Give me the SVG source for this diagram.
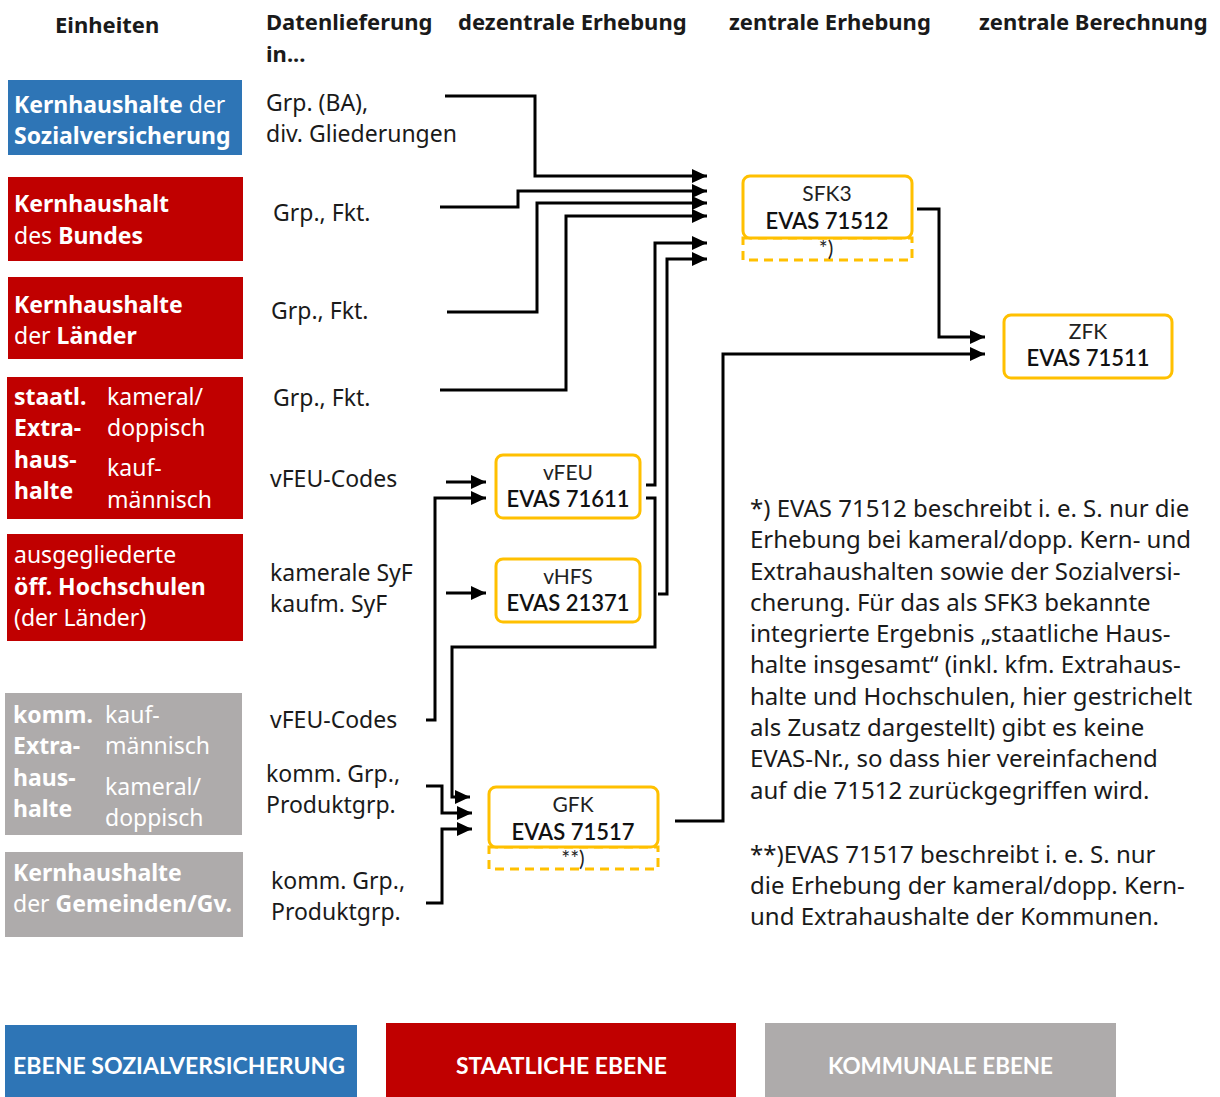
<svg xmlns="http://www.w3.org/2000/svg" width="1220" height="1097" viewBox="0 0 1220 1097">
<defs>
<marker id="ah" markerUnits="userSpaceOnUse" markerWidth="16" markerHeight="14" refX="15" refY="7" orient="auto"><path d="M0,0 L15,7 L0,14 z" fill="#000"/></marker>
<style>
text{font-family:Lato,"Liberation Sans",sans-serif;}
.h,.t,.w{font-family:"Noto Sans","Liberation Sans",sans-serif;}
.h{font-size:22px;font-weight:bold;fill:#1a1a1a;}
.t{font-size:23px;fill:#1a1a1a;}
.nt{font-size:24px;}
.w{font-size:23px;fill:#fff;}
.b{font-weight:bold;}
.bx{fill:#fff;stroke:#FFC000;stroke-width:3;}
.ds{fill:none;stroke:#FFC000;stroke-width:3;stroke-dasharray:9,6;}
.n1{font-size:21px;fill:#222;text-anchor:middle;}
.n2{font-size:22px;fill:#111;text-anchor:middle;font-weight:600;}
.c{fill:none;stroke:#000;stroke-width:3;}
.a{marker-end:url(#ah);}
.lg{font-size:22px;font-weight:bold;fill:#fff;}
</style>
</defs>
<rect width="1220" height="1097" fill="#fff"/>
<g id="headers">
<text class="h" x="55" y="33">Einheiten</text>
<text class="h" x="266" y="30">Datenlieferung</text>
<text class="h" x="266" y="62">in...</text>
<text class="h" x="458" y="30">dezentrale Erhebung</text>
<text class="h" x="729" y="30">zentrale Erhebung</text>
<text class="h" x="979" y="30">zentrale Berechnung</text>
</g>
<g id="unit-sv">
<rect x="8" y="80" width="234" height="75" fill="#2E75B6"/>
<text class="w" x="14" y="113"><tspan class="b">Kernhaushalte</tspan> der</text>
<text class="w b" x="14" y="144">Sozialversicherung</text>
</g>
<g id="unit-bund">
<rect x="8" y="177" width="235" height="84" fill="#C00000"/>
<text class="w b" x="14" y="212">Kernhaushalt</text>
<text class="w" x="14" y="244">des <tspan class="b">Bundes</tspan></text>
</g>
<g id="unit-laender">
<rect x="8" y="277" width="235" height="82" fill="#C00000"/>
<text class="w b" x="14" y="313">Kernhaushalte</text>
<text class="w" x="14" y="344">der <tspan class="b">Länder</tspan></text>
</g>
<g id="unit-staatl-extra">
<rect x="7" y="377" width="236" height="142" fill="#C00000"/>
<text class="w b" x="14" y="405">staatl.</text>
<text class="w b" x="14" y="436">Extra-</text>
<text class="w b" x="14" y="468">haus-</text>
<text class="w b" x="14" y="499">halte</text>
<text class="w" x="107" y="405">kameral/</text>
<text class="w" x="107" y="436">doppisch</text>
<text class="w" x="107" y="476">kauf-</text>
<text class="w" x="107" y="508">männisch</text>
</g>
<g id="unit-hochschulen">
<rect x="7" y="534" width="236" height="107" fill="#C00000"/>
<text class="w" x="14" y="563">ausgegliederte</text>
<text class="w b" x="14" y="595">öff. Hochschulen</text>
<text class="w" x="14" y="626">(der Länder)</text>
</g>
<g id="unit-komm-extra">
<rect x="5" y="693" width="237" height="142" fill="#AEABAB"/>
<text class="w b" x="13" y="723">komm.</text>
<text class="w b" x="13" y="754">Extra-</text>
<text class="w b" x="13" y="786">haus-</text>
<text class="w b" x="13" y="817">halte</text>
<text class="w" x="105" y="723">kauf-</text>
<text class="w" x="105" y="754">männisch</text>
<text class="w" x="105" y="795">kameral/</text>
<text class="w" x="105" y="826">doppisch</text>
</g>
<g id="unit-gemeinden">
<rect x="5" y="852" width="238" height="85" fill="#AEABAB"/>
<text class="w b" x="13" y="881">Kernhaushalte</text>
<text class="w" x="13" y="912">der <tspan class="b">Gemeinden/Gv.</tspan></text>
</g>
<g id="data-labels">
<text class="t" x="266" y="111">Grp. (BA),</text>
<text class="t" x="266" y="142">div. Gliederungen</text>
<text class="t" x="273" y="221">Grp., Fkt.</text>
<text class="t" x="271" y="319">Grp., Fkt.</text>
<text class="t" x="273" y="406">Grp., Fkt.</text>
<text class="t" x="270" y="487">vFEU-Codes</text>
<text class="t" x="270" y="581">kamerale SyF</text>
<text class="t" x="270" y="612">kaufm. SyF</text>
<text class="t" x="270" y="728">vFEU-Codes</text>
<text class="t" x="266" y="782">komm. Grp.,</text>
<text class="t" x="266" y="813">Produktgrp.</text>
<text class="t" x="271" y="889">komm. Grp.,</text>
<text class="t" x="271" y="920">Produktgrp.</text>
</g>
<g id="connectors">
<path class="c a" d="M445,96 H535 V176 H707"/>
<path class="c a" d="M440,207 H518 V191 H707"/>
<path class="c a" d="M447,312 H537 V203 H707"/>
<path class="c a" d="M440,390 H566 V216 H707"/>
<path class="c a" d="M646,485 H655 V243 H707"/>
<path class="c a" d="M658,594 H667 V259 H707"/>
<path class="c a" d="M646,498 H655 V647 H452 V797 H470"/>
<path class="c a" d="M446,482 H486"/>
<path class="c a" d="M446,593 H486"/>
<path class="c a" d="M426,720 H435 V498 H486"/>
<path class="c a" d="M426,786 H442 V813 H472"/>
<path class="c a" d="M426,903 H442 V829 H472"/>
<path class="c a" d="M675,821 H723 V354 H985"/>
<path class="c a" d="M917,209 H939 V337 H985"/>
</g>
<g id="node-sfk3">
<rect class="ds" x="743" y="238" width="169" height="22"/>
<rect class="bx" x="743" y="176" width="169" height="62" rx="7"/>
<text class="n1" x="827" y="201">SFK3</text>
<text class="n2" x="827" y="229">EVAS 71512</text>
<text class="n1" x="826" y="256">*)</text>
</g>
<g id="node-zfk">
<rect class="bx" x="1004" y="315" width="168" height="63" rx="7"/>
<text class="n1" x="1088" y="339">ZFK</text>
<text class="n2" x="1088" y="366">EVAS 71511</text>
</g>
<g id="node-vfeu">
<rect class="bx" x="496" y="455" width="144" height="63" rx="7"/>
<text class="n1" x="568" y="480">vFEU</text>
<text class="n2" x="568" y="507">EVAS 71611</text>
</g>
<g id="node-vhfs">
<rect class="bx" x="496" y="559" width="144" height="63" rx="7"/>
<text class="n1" x="568" y="584">vHFS</text>
<text class="n2" x="568" y="611">EVAS 21371</text>
</g>
<g id="node-gfk">
<rect class="ds" x="489" y="847" width="169" height="22"/>
<rect class="bx" x="489" y="787" width="169" height="60" rx="7"/>
<text class="n1" x="573" y="812">GFK</text>
<text class="n2" x="573" y="840">EVAS 71517</text>
<text class="n1" x="573" y="866">**)</text>
</g>
<g id="notes">
<text class="t nt" x="750" y="517">*) EVAS 71512 beschreibt i. e. S. nur die</text>
<text class="t nt" x="750" y="548">Erhebung bei kameral/dopp. Kern- und</text>
<text class="t nt" x="750" y="580">Extrahaushalten sowie der Sozialversi-</text>
<text class="t nt" x="750" y="611">cherung. Für das als SFK3 bekannte</text>
<text class="t nt" x="750" y="642">integrierte Ergebnis „staatliche Haus-</text>
<text class="t nt" x="750" y="673">halte insgesamt“ (inkl. kfm. Extrahaus-</text>
<text class="t nt" x="750" y="705">halte und Hochschulen, hier gestrichelt</text>
<text class="t nt" x="750" y="736">als Zusatz dargestellt) gibt es keine</text>
<text class="t nt" x="750" y="767">EVAS-Nr., so dass hier vereinfachend</text>
<text class="t nt" x="750" y="799">auf die 71512 zurückgegriffen wird.</text>
<text class="t nt" x="750" y="863">**)EVAS 71517 beschreibt  i. e. S. nur</text>
<text class="t nt" x="750" y="894">die Erhebung der  kameral/dopp. Kern-</text>
<text class="t nt" x="750" y="925">und Extrahaushalte der Kommunen.</text>
</g>
<g id="legend">
<rect x="5" y="1025" width="352" height="72" fill="#2E75B6"/>
<text class="lg" x="13" y="1074" textLength="332" lengthAdjust="spacingAndGlyphs">EBENE SOZIALVERSICHERUNG</text>
<rect x="386" y="1023" width="350" height="74" fill="#C00000"/>
<text class="lg" x="456" y="1074" textLength="211" lengthAdjust="spacingAndGlyphs">STAATLICHE EBENE</text>
<rect x="765" y="1023" width="351" height="74" fill="#AEABAB"/>
<text class="lg" x="828" y="1074" textLength="225" lengthAdjust="spacingAndGlyphs">KOMMUNALE EBENE</text>
</g>
</svg>
